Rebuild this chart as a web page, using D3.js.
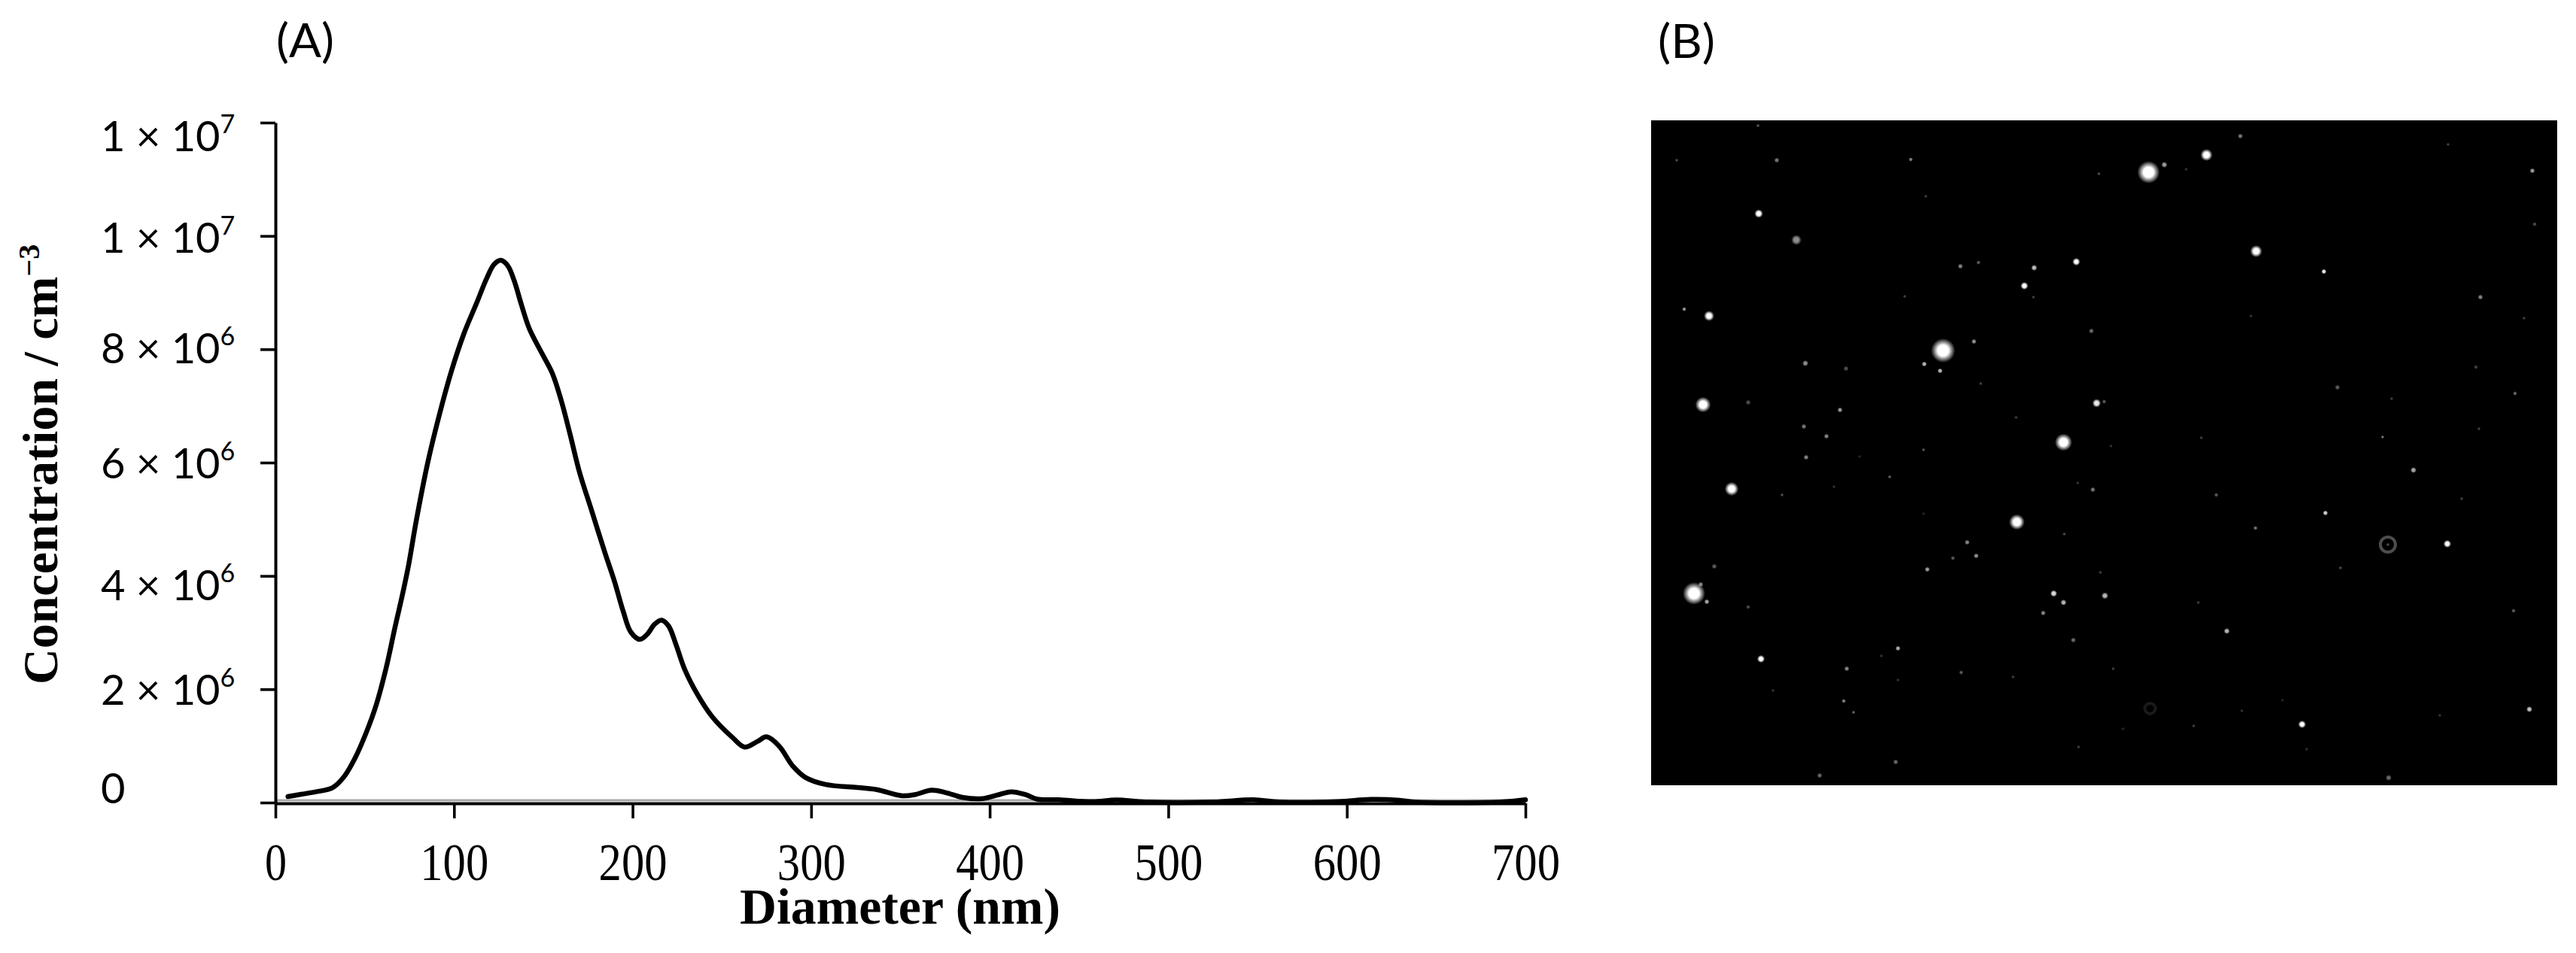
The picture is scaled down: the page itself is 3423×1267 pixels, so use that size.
<!DOCTYPE html>
<html>
<head>
<meta charset="utf-8">
<script src="https://cdn.jsdelivr.net/npm/d3@7"></script>
<style>
  html, body { margin: 0; background: #fff; }
  svg { display: block; }
  .serif { font-family: "Liberation Serif", serif; }
  .sans { font-family: Lato, "Open Sans", sans-serif; }
</style>
</head>
<body>
<svg id="chart" width="3423" height="1267"></svg>
<script>
// panel A: particle size distribution
const diameter = [7, 14.3, 22.8, 31.9, 38.2, 44.5, 50.9, 56.5, 62.1, 67, 71.2, 74.5, 78.9, 85.3, 91.6, 98.6, 105.6, 112.6, 118.3, 122.5, 126.3, 130.2, 133.7, 137.9, 142.1, 149.2, 155, 160, 165, 170.2, 177.2, 184.3, 189.9, 194.8, 199, 204, 208.2, 212.4, 216.2, 220.1, 224.3, 229.2, 236.3, 244.7, 255.9, 262.7, 270, 275, 282, 289.6, 297, 308, 326, 336.6, 351, 358, 367.5, 375.5, 385, 396, 404, 412, 420, 426.6, 438.7, 457.5, 471, 487, 525, 547.6, 562, 594.6, 613.4, 629.5, 637.6, 686, 700];
const concentration = [0.106, 0.146, 0.19, 0.26, 0.447, 0.78, 1.24, 1.73, 2.39, 3.1, 3.68, 4.18, 4.98, 6.0, 6.82, 7.62, 8.28, 8.81, 9.25, 9.5, 9.57, 9.47, 9.21, 8.77, 8.37, 7.93, 7.58, 7.1, 6.5, 5.84, 5.14, 4.43, 3.9, 3.37, 3.01, 2.88, 2.97, 3.15, 3.22, 3.12, 2.79, 2.35, 1.91, 1.51, 1.15, 0.98, 1.08, 1.16, 1.0, 0.65, 0.44, 0.32, 0.265, 0.23, 0.12, 0.14, 0.22, 0.175, 0.09, 0.07, 0.13, 0.19, 0.14, 0.06, 0.05, 0.015, 0.045, 0.01, 0.01, 0.05, 0.01, 0.015, 0.055, 0.04, 0.01, 0.01, 0.05].map(v => v * 1e6);

const xTicks = [0, 100, 200, 300, 400, 500, 600, 700];
const yTicks = [0, 2e6, 4e6, 6e6, 8e6, 1e7, 1.2e7];
const yLabelBase = ["0", "2 × 10", "4 × 10", "6 × 10", "8 × 10", "1 × 10", "1 × 10"];
const yLabelExp = ["", "6", "6", "6", "6", "7", "7"];
const yLabelDrop = [0, 20, 32, 20, 18, 22, 37];

// panel B: bright spots in the micrograph, in frame pixels
const spotX = [142, 34, 167, 345, 365, 595, 143, 193, 411, 435, 509, 565, 496, 508, 337, 44, 77, 585, 429, 388, 363, 384, 205, 259, 438, 69, 129, 251, 592, 485, 783, 738, 661, 682, 711, 1059, 1171, 1174, 804, 894, 1102, 1160, 797, 1096, 912, 1148, 984, 602, 731, 972, 1100, 611, 203, 233, 206, 362, 317, 277, 548, 107, 174, 243, 587, 567, 486, 362, 549, 420, 401, 432, 367, 84, 597, 57, 66, 74, 129, 535, 548, 603, 521, 561, 328, 146, 260, 306, 412, 481, 328, 614, 256, 269, 162, 568, 325, 224, 751, 1013, 896, 803, 1077, 1058, 916, 727, 1146, 765, 785, 721, 627, 865, 1167, 1048, 871, 980, 839, 979];
const spotY = [7, 53, 53, 52, 101, 71, 124, 159, 194, 189, 196, 188, 220, 235, 234, 251, 260, 280, 294, 306, 324, 333, 323, 330, 350, 378, 375, 385, 376, 395, 21, 46, 69, 59, 65, 32, 67, 138, 174, 201, 235, 263, 260, 328, 355, 363, 370, 374, 422, 421, 410, 433, 407, 420, 448, 438, 474, 447, 428, 490, 498, 487, 491, 482, 534, 523, 550, 561, 582, 579, 597, 593, 601, 629, 617, 640, 647, 629, 641, 632, 655, 691, 702, 716, 729, 712, 734, 740, 744, 729, 772, 787, 758, 833, 853, 871, 498, 465, 522, 542, 503, 563, 595, 641, 652, 679, 785, 805, 809, 803, 783, 791, 836, 874, 771, 564];
const spotR = [2, 2, 3, 2.5, 2, 2, 5, 6, 3, 2.5, 3.5, 4.5, 4.5, 2, 2, 2.5, 6, 3, 3, 14, 3, 3, 3.5, 3, 2, 9, 3, 3, 5, 2, 3, 7, 13, 3.5, 2, 2, 3, 2.5, 7, 3, 3, 2, 2, 2.5, 3, 2.5, 2, 2.5, 2, 2, 2, 2, 3, 3, 3, 2, 2, 2, 10, 8, 2, 2, 3, 2, 9, 2, 2, 3, 2.5, 3, 3, 3, 2, 13, 3, 3, 2.5, 4, 3.5, 4, 3, 3, 3, 4.5, 3, 2, 2.5, 2, 2, 2, 2.5, 2, 2, 2, 3, 3, 2.5, 3.5, 3, 2.5, 2, 4.5, 2, 2, 2.5, 3.5, 2, 2, 2, 4.5, 3.5, 2, 2, 3.5, 2, 2];
const spotB = [.35, .3, .45, .5, .25, .3, 1, .55, .5, .35, .75, 1, 1, .25, .25, .6, 1, .4, .55, 1, .7, .7, .55, .3, .25, 1, .3, .6, .9, .25, .45, 1, 1, .6, .2, .25, .6, .3, 1, .9, .5, .25, .2, .25, .35, .4, .25, .35, .25, .45, .25, .2, .45, .5, .5, .35, .4, .15, 1, 1, .3, .2, .45, .2, 1, .15, .3, .5, .35, .55, .6, .35, .25, 1, .5, .65, .3, .85, .7, .7, .5, .4, .65, 1, .5, .2, .35, .25, .2, .25, .5, .4, .2, .25, .4, .4, .35, .65, .8, .45, .25, 1, .3, .25, .35, .7, .2, .25, .15, 1, .75, .2, .2, .4, .15, .3];
const ringX = [979, 663];
const ringY = [564, 782];
const ringR = [10, 7];
const ringB = [.3, .1];

const svg = d3.select("#chart");

const x = d3.scaleLinear().domain([0, 700]).range([366, 2027]);
const y = d3.scaleLinear().domain([0, 1.2e7]).range([1067, 163]);

// pale edge that sits on top of the x axis line
svg.append("line")
    .attr("x1", x(0)).attr("x2", x(700))
    .attr("y1", y(0) - 3).attr("y2", y(0) - 3)
    .attr("stroke", "#aaa")
    .attr("stroke-width", 3);

const xAxis = svg.append("g")
    .attr("transform", "translate(0,1068)")
    .call(d3.axisBottom(x).tickValues(xTicks).tickSize(20).tickSizeOuter(0));

xAxis.select(".domain").attr("stroke", "#000").attr("stroke-width", 4);
xAxis.selectAll(".tick line").attr("stroke", "#000").attr("stroke-width", 3.6);
xAxis.selectAll(".tick text")
    .attr("class", "serif")
    .attr("y", 102)
    .attr("dy", 0)
    .attr("fill", "#000")
    .style("font-size", "70px")
    .attr("text-anchor", "middle")
    .attr("lengthAdjust", "spacingAndGlyphs")
    .attr("textLength", d => d === 0 ? 29 : 91);

const yAxis = svg.append("g")
    .attr("transform", "translate(366,0)")
    .call(d3.axisLeft(y).tickValues(yTicks).tickSize(20).tickSizeOuter(0).tickFormat(""));

yAxis.select(".domain").attr("stroke", "#000").attr("stroke-width", 4);
yAxis.selectAll(".tick line").attr("stroke", "#000").attr("stroke-width", 3.6);

yAxis.selectAll(".tick text")
    .attr("class", "sans")
    .attr("fill", "#000")
    .attr("text-anchor", "start")
    .attr("x", -232)
    .attr("dy", 0)
    .attr("y", (d, i) => yLabelDrop[i])
    .style("font-size", "56px")
    .each(function(d, i) {
        const t = d3.select(this);
        t.append("tspan").text(yLabelBase[i]);
        if (yLabelExp[i]) {
            t.append("tspan")
                .attr("dy", -24)
                .style("font-size", "34px")
                .text(yLabelExp[i]);
        }
    });

const line = d3.line()
    .x((d, i) => x(diameter[i]))
    .y(d => y(d))
    .curve(d3.curveCatmullRom);

svg.append("path")
    .datum(concentration)
    .attr("fill", "none")
    .attr("stroke", "#000")
    .attr("stroke-width", 6.5)
    .attr("stroke-linejoin", "round")
    .attr("stroke-linecap", "round")
    .attr("d", line);

svg.append("text")
    .attr("class", "serif")
    .attr("x", 983)
    .attr("y", 1228)
    .attr("textLength", 426)
    .attr("lengthAdjust", "spacingAndGlyphs")
    .style("font-size", "67px")
    .style("font-weight", "bold")
    .text("Diameter (nm)");

const yTitle = svg.append("text")
    .attr("class", "serif")
    .attr("transform", "translate(76,910) rotate(-90)")
    .style("font-size", "66px")
    .style("font-weight", "bold");
yTitle.append("tspan").text("Concentration / cm");
yTitle.append("tspan").attr("dy", -24).style("font-size", "40px").text("−3");

svg.append("text").attr("class", "sans")
    .attr("x", 367).attr("y", 76)
    .attr("textLength", 77).attr("lengthAdjust", "spacingAndGlyphs")
    .style("font-size", "62px")
    .text("(A)");

svg.append("text").attr("class", "sans")
    .attr("x", 2203).attr("y", 77)
    .attr("textLength", 76).attr("lengthAdjust", "spacingAndGlyphs")
    .style("font-size", "62px")
    .text("(B)");

// micrograph
const fx = d3.scaleLinear().domain([0, 1204]).range([2194, 3398]);
const fy = d3.scaleLinear().domain([0, 884]).range([160, 1044]);

const glow = svg.append("defs").append("radialGradient").attr("id", "glow");
glow.append("stop").attr("offset", "0%").attr("stop-color", "#fff").attr("stop-opacity", 1);
glow.append("stop").attr("offset", "45%").attr("stop-color", "#fff").attr("stop-opacity", 1);
glow.append("stop").attr("offset", "100%").attr("stop-color", "#fff").attr("stop-opacity", 0);

svg.append("rect")
    .attr("x", fx(0)).attr("y", fy(0))
    .attr("width", fx(1204) - fx(0)).attr("height", fy(884) - fy(0))
    .attr("fill", "#000");

svg.append("g").selectAll("circle")
    .data(d3.range(spotX.length))
    .join("circle")
    .attr("cx", i => fx(spotX[i]))
    .attr("cy", i => fy(spotY[i]))
    .attr("r", i => spotR[i] * 1.15)
    .attr("fill", "url(#glow)")
    .attr("fill-opacity", i => spotB[i]);

svg.append("g").selectAll("circle")
    .data(d3.range(ringX.length))
    .join("circle")
    .attr("cx", i => fx(ringX[i]))
    .attr("cy", i => fy(ringY[i]))
    .attr("r", i => ringR[i])
    .attr("fill", "none")
    .attr("stroke", "#fff")
    .attr("stroke-width", 4)
    .attr("stroke-opacity", i => ringB[i]);
</script>
</body>
</html>
